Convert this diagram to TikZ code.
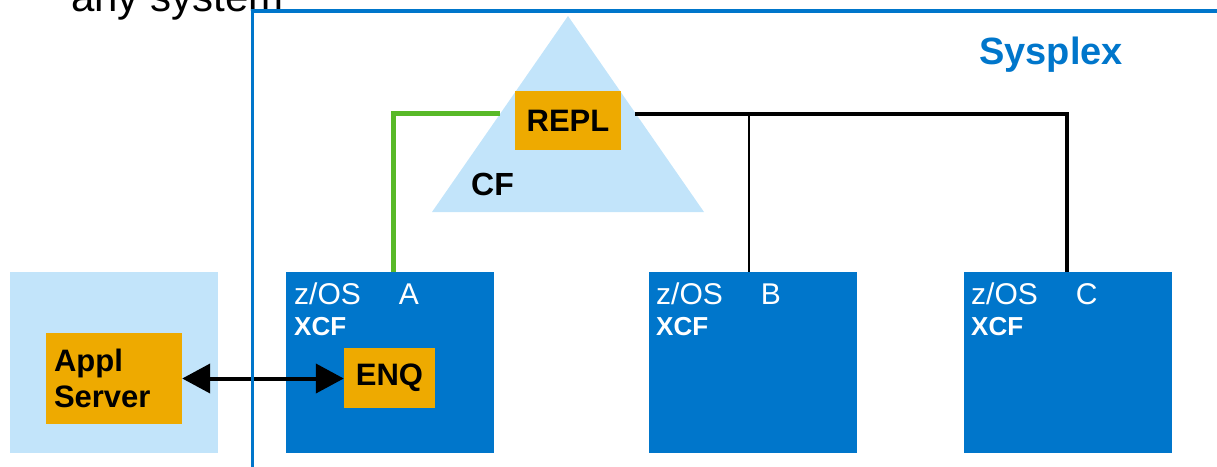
\documentclass[tikz,border=0pt]{standalone}
\usepackage{fontspec}
\setmainfont{Liberation Sans}
\usetikzlibrary{arrows.meta,calc,positioning}
\definecolor{PlexBlue}{RGB}{0,118,203}
\definecolor{PaleBlue}{RGB}{194,228,250}
\definecolor{EnqGold}{RGB}{238,170,0}
\definecolor{LinkGreen}{RGB}{88,185,40}

\begin{document}
\begin{tikzpicture}[x=1pt,y=-1pt,>={Triangle[length=28pt,width=29pt]},
    lpar/.style={fill=PlexBlue,minimum width=208pt,minimum height=181pt,inner sep=0pt},
    gold/.style={fill=EnqGold,inner sep=0pt,font=\fontsize{31}{36}\selectfont\bfseries},
    lbl/.style={anchor=base west,inner sep=0pt,text=white}]
      \useasboundingbox (0,0) rectangle (1217,466);
      \clip (0,0) rectangle (1217,466);
      \node[anchor=base west,inner sep=0pt,font=\fontsize{42}{48}\selectfont]
        (head) at (71,11.5) {any system};
      % coupling facility
      \fill[PaleBlue] (432,212) -- (568,16) -- (704,212) -- cycle;
      \node[anchor=base west,inner sep=0pt,font=\fontsize{32}{36}\selectfont\bfseries]
        (cf) at (471,195) {CF};
      \node[gold,minimum width=106pt,minimum height=59pt] (repl) at (568,120.5) {REPL};
      % the three systems
      \node[lpar] (sysA) at (390,362.5) {};
      \node[lpar] (sysB) at (752.5,362.5) {};
      \node[lpar] (sysC) at (1067.5,362.5) {};
      \foreach \s/\x/\n in {A/294/A,B/656/B,C/971/C} {
        \node[lbl,font=\fontsize{30}{34}\selectfont] (os\s) at (\x,304)
          {z/OS\hspace{38pt}\n};
        \node[lbl,font=\fontsize{26}{30}\selectfont\bfseries] (xcf\s) at (\x,335) {XCF};
      }
      \node[gold,minimum width=91pt,minimum height=60pt] (enq) at (389.5,378) {ENQ};
      % application server outside
      \fill[PaleBlue] (10,272) rectangle (218,453);
      \node[gold,text width=120pt,align=left,inner xsep=8pt,minimum height=91pt]
        (appl) at (114,378.5) {Appl\\Server};
      \draw[<->,line width=4pt] (appl.east) -- (appl.east -| enq.west);
      % links to the CF
      \draw[LinkGreen,line width=5pt] ([xshift=3.5pt]sysA.north)
        |- ([shift={(-15pt,7pt)}]repl.west);
      \draw[line width=3.5pt] ([shift={(14pt,6.5pt)}]repl.east)
        -| ([xshift=-0.5pt]sysC.north);
      \coordinate (tap) at (749,114);
      \draw[line width=1.6pt] (tap) -- (tap |- sysB.north);
      % sysplex frame
      \draw[PlexBlue,line width=3.5pt] (252.5,11) rectangle (1250,500);
      \node[font=\fontsize{38}{42}\selectfont\bfseries,text=PlexBlue,anchor=base,
        inner sep=0pt] (plex) at (1051,64) {Sysplex};
    \end{tikzpicture}
\end{document}
